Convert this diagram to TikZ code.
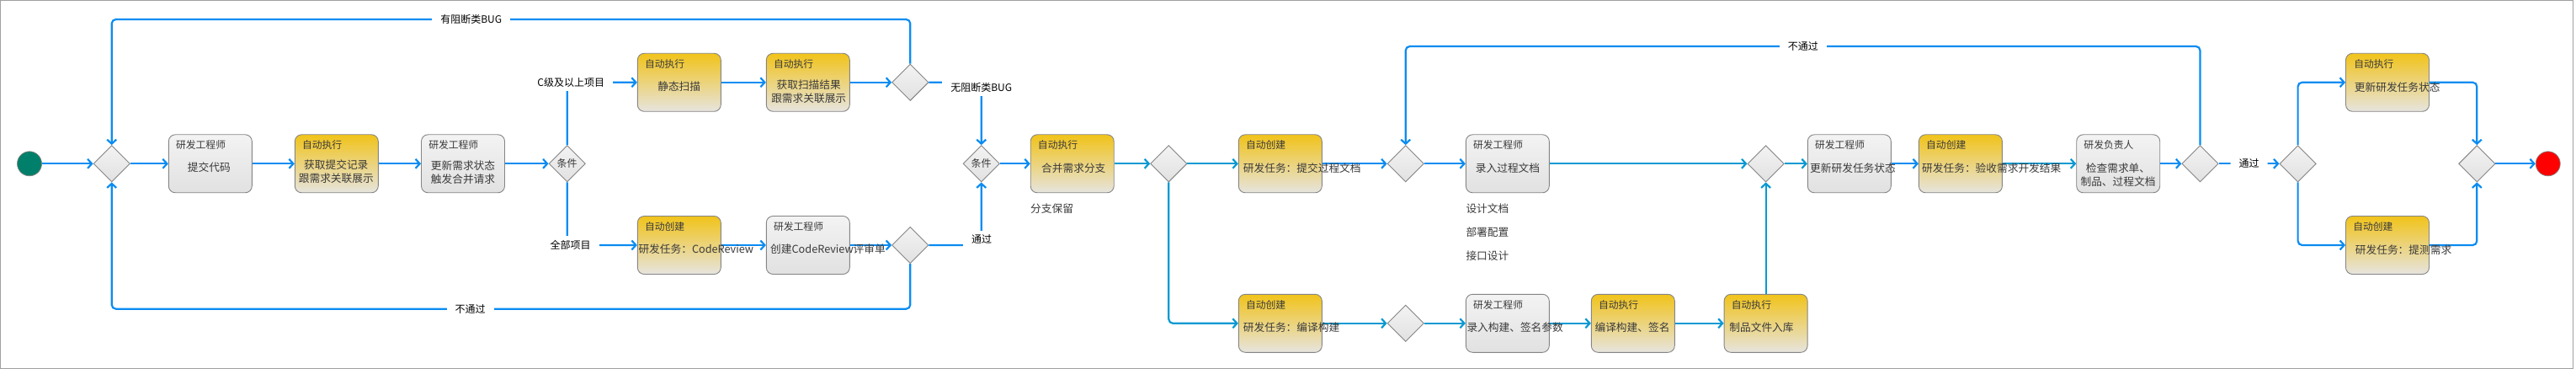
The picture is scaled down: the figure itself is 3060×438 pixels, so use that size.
\documentclass[tikz,border=0pt]{standalone}
\usepackage{fontspec}
\setmainfont{Noto Sans CJK SC}
\usetikzlibrary{shapes.geometric,arrows.meta}
\definecolor{lnA}{HTML}{0A8CF2}
\definecolor{lnB}{HTML}{0899D2}
\definecolor{bdr}{HTML}{858585}
\definecolor{gtop}{HTML}{F3F3F3}
\definecolor{gbot}{HTML}{E1E1E1}
\definecolor{ytop}{HTML}{F1C31A}
\definecolor{ybot}{HTML}{E6E4DF}
\definecolor{txt}{HTML}{3A3A3A}
\definecolor{startc}{HTML}{00806A}
\definecolor{framec}{HTML}{A0A0A0}
\tikzset{
  cA/.style={line width=2.2pt, draw=lnA, rounded corners=5pt, -{Straight Barb[length=5pt,width=11pt]}},
  cB/.style={cA, draw=lnB},
  gbox/.style={rectangle, rounded corners=8pt, draw=bdr, line width=0.9pt, top color=gtop, bottom color=gbot, minimum width=99pt, minimum height=69pt, inner sep=0pt},
  ybox/.style={gbox, top color=ytop, bottom color=ybot},
  dia/.style={diamond, draw=bdr, line width=0.9pt, top color=gtop, bottom color=gbot, minimum width=43.4pt, minimum height=43.4pt, inner sep=0pt, font=\fontsize{12}{14}\selectfont, text=txt},
  hdr/.style={anchor=west, inner sep=0pt, font=\fontsize{11.8}{14}\selectfont, text=txt},
  bdy/.style={inner sep=0pt, font=\fontsize{12.7}{16}\selectfont, text=txt, align=center},
  bdyw/.style={bdy, anchor=west},
  elabel/.style={fill=white, inner xsep=10pt, inner ysep=5pt, font=\fontsize{12}{14}\selectfont, text=black},
  note/.style={anchor=west, inner sep=0pt, font=\fontsize{12.7}{15}\selectfont, text=txt},
  term/.style={circle, draw=gray, line width=0.7pt, minimum size=29pt, inner sep=0pt},
}
\begin{document}
\begin{tikzpicture}[x=1pt,y=-1pt]
\fill[white] (0,0) rectangle (3060,438);
\useasboundingbox (0,0) rectangle (3060,438);
\draw[framec, line width=1.2pt] (0.8,0.8) rectangle (3056.8,437.2);
\coordinate (yTop) at (0,23);
\coordinate (yBot) at (0,366.7);
\coordinate (yNP) at (0,55);

% nodes
\node[term, fill=startc] (S) at (35,194.3) {};
\node[dia] (D1) at (132.7,194.3) {};
\node[gbox] (B1) at (249.8,194.3) {};
\node[ybox] (B2) at (399.8,194.3) {};
\node[gbox] (B3) at (550,194.3) {};
\node[dia] (C1) at (673.7,194.3) {条件};
\node[ybox] (BS) at (806.8,97.8) {};
\node[ybox] (BR) at (959.8,97.8) {};
\node[dia] (DT) at (1081.3,97.8) {};
\node[ybox] (BC) at (806.8,291) {};
\node[gbox] (BCc) at (959.8,291) {};
\node[dia] (DC) at (1081.3,291) {};
\node[dia] (C2) at (1165.7,194.3) {条件};
\node[ybox] (BM) at (1273.7,194.3) {};
\node[dia] (D3) at (1388.3,194.3) {};
\node[ybox] (BD) at (1520.8,194.3) {};
\node[dia] (D4) at (1669.7,194.3) {};
\node[gbox] (BDi) at (1790.8,194.3) {};
\node[ybox] (BB) at (1520.8,383.8) {};
\node[dia] (D6) at (1669.7,383.8) {};
\node[gbox] (BBi) at (1790.8,383.8) {};
\node[ybox] (BBr) at (1939.8,383.8) {};
\node[ybox] (BSt) at (2097.6,383.8) {};
\node[dia] (D5) at (2097.6,194.3) {};
\node[gbox] (BU) at (2196.8,194.3) {};
\node[ybox] (BA) at (2328.9,194.3) {};
\node[gbox] (BV) at (2516.2,194.3) {};
\node[dia] (D7) at (2613.5,194.3) {};
\node[dia] (D8) at (2729.6,194.3) {};
\node[ybox] (BU2) at (2836,97.8) {};
\node[ybox] (BT) at (2836,291) {};
\node[dia] (D9) at (2942.3,194.3) {};
\node[term, fill=red] (E) at (3026.7,194.3) {};

% connectors
\draw[cA] (S) -- (D1);
\draw[cA] (D1) -- (B1);
\draw[cA] (B1) -- (B2);
\draw[cA] (B2) -- (B3);
\draw[cA] (B3) -- (C1);
\draw[cA] (C1.north) |- (BS.west);
\draw[cA] (C1.south) |- (BC.west);
\draw[cA] (BS) -- (BR);
\draw[cA] (BR) -- (DT);
\draw[cA] (BC) -- (BCc);
\draw[cA] (BCc) -- (DC);
\draw[cA] (DT.north) -- (DT.north |- yTop) -- (D1.north |- yTop) -- (D1.north);
\draw[cA] (DC.south) -- (DC.south |- yBot) -- (D1.south |- yBot) -- (D1.south);
\draw[cA] (DT.east) -| (C2.north);
\draw[cA] (DC.east) -| (C2.south);
\draw[cA] (C2) -- (BM);
\draw[cB] (BM) -- (D3);
\draw[cB] (D3) -- (BD);
\draw[cB] (D3.south) |- (BB.west);
\draw[cA] (BD) -- (D4);
\draw[cA] (D4) -- (BDi);
\draw[cB] (BDi) -- (D5);
\draw[cB] (BB) -- (D6);
\draw[cB] (D6) -- (BBi);
\draw[cB] (BBi) -- (BBr);
\draw[cB] (BBr) -- (BSt);
\draw[cB] (BSt) -- (D5);
\draw[cB] (D5) -- (BU);
\draw[cA] (BU) -- (BA);
\draw[cB] (BA) -- (BV);
\draw[cA] (BV) -- (D7);
\draw[cA] (D7.north) -- (D7.north |- yNP) -- (D4.north |- yNP) -- (D4.north);
\draw[cA] (D7) -- node[elabel] (L8) {通过} (D8);
\draw[cA] (D8.north) |- (BU2.west);
\draw[cA] (D8.south) |- (BT.west);
\draw[cA] (BU2.east) -| (D9.north);
\draw[cA] (BT.east) -| (D9.south);
\draw[cA] (D9) -- (E);

% edge labels
\node[elabel] (L1) at (559.7,23) {有阻断类BUG};
\node[elabel] (L2) at (558.7,366.7) {不通过};
\node[elabel] (L3) at (678.3,97.8) {C级及以上项目};
\node[elabel] (L4) at (677.7,290.7) {全部项目};
\node[elabel] (L5) at (1165.7,103.7) {无阻断类BUG};
\node[elabel] (L6) at (1166,284.3) {通过};
\node[elabel] (L7) at (2141.9,55) {不通过};

% headers
\node[hdr] (B1h) at ([shift={(9,13)}]B1.north west) {研发工程师};
\node[hdr] (B2h) at ([shift={(9,13)}]B2.north west) {自动执行};
\node[hdr] (B3h) at ([shift={(9,13)}]B3.north west) {研发工程师};
\node[hdr] (BSh) at ([shift={(9,13)}]BS.north west) {自动执行};
\node[hdr] (BRh) at ([shift={(9,13)}]BR.north west) {自动执行};
\node[hdr] (BCh) at ([shift={(9,13)}]BC.north west) {自动创建};
\node[hdr] (BCch) at ([shift={(9,13)}]BCc.north west) {研发工程师};
\node[hdr] (BMh) at ([shift={(9,13)}]BM.north west) {自动执行};
\node[hdr] (BDh) at ([shift={(9,13)}]BD.north west) {自动创建};
\node[hdr] (BDih) at ([shift={(9,13)}]BDi.north west) {研发工程师};
\node[hdr] (BBh) at ([shift={(9,13)}]BB.north west) {自动创建};
\node[hdr] (BBih) at ([shift={(9,13)}]BBi.north west) {研发工程师};
\node[hdr] (BBrh) at ([shift={(9,13)}]BBr.north west) {自动执行};
\node[hdr] (BSth) at ([shift={(9,13)}]BSt.north west) {自动执行};
\node[hdr] (BUh) at ([shift={(9,13)}]BU.north west) {研发工程师};
\node[hdr] (BAh) at ([shift={(9,13)}]BA.north west) {自动创建};
\node[hdr] (BVh) at ([shift={(9,13)}]BV.north west) {研发负责人};
\node[hdr] (BU2h) at ([shift={(10,13)}]BU2.north west) {自动执行};
\node[hdr] (BTh) at ([shift={(9,13)}]BT.north west) {自动创建};

% bodies
\node[bdy] (B1t) at (248.3,199) {提交代码};
\node[bdy] (B2t) at (399.3,204) {获取提交记录\\跟需求关联展示};
\node[bdy] (B3t) at (550,204.3) {更新需求状态\\触发合并请求};
\node[bdy] (BSt1) at (806.7,102.7) {静态扫描};
\node[bdy] (BRt) at (960.7,108.7) {获取扫描结果\\跟需求关联展示};
\node[bdyw] (BCt) at (758.3,295.3) {研发任务：CodeReview};
\node[bdyw] (BCct) at (915,295.3) {创建CodeReview评审单};
\node[bdy] (BMt) at (1275.3,200) {合并需求分支};
\node[bdyw] (BDt) at (1476.7,200) {研发任务：提交过程文档};
\node[bdy] (BDit) at (1791,200) {录入过程文档};
\node[bdyw] (BBt) at (1476.7,388.3) {研发任务：编译构建};
\node[bdyw] (BBit) at (1742.3,388.3) {录入构建、签名参数};
\node[bdy] (BBrt) at (1939,388.3) {编译构建、签名};
\node[bdy] (BStt) at (2092.5,388.3) {制品文件入库};
\node[bdyw] (BUt) at (2150,200) {更新研发任务状态};
\node[bdyw] (BAt) at (2283,200) {研发任务：验收需求开发结果};
\node[bdy] (BVt) at (2516,208) {检查需求单、\\制品、过程文档};
\node[bdyw] (BU2t) at (2796.7,103.3) {更新研发任务状态};
\node[bdyw] (BTt) at (2797.7,296.7) {研发任务：提测需求};

% notes
\node[note] (N1) at (1224,247.7) {分支保留};
\node[note] (N2) at (1741.3,247.7) {设计文档};
\node[note] (N3) at (1741.3,276) {部署配置};
\node[note] (N4) at (1741.3,304) {接口设计};
\end{tikzpicture}
\end{document}
